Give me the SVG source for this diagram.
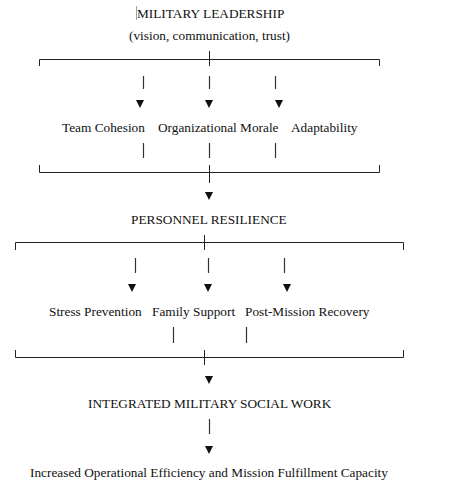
<svg xmlns="http://www.w3.org/2000/svg" xmlns:xlink="http://www.w3.org/1999/xlink" width="465" height="487" viewBox="0 0 465 487">
<style>
text{font-family:"Liberation Serif","Times New Roman",serif;font-size:13.3px;fill:#111}
.ln{stroke:#222;stroke-width:1;fill:none}
.bar{stroke:#333;stroke-width:1.2;fill:none}
</style>
<defs>
<polygon id="tri" points="-4,0 4,0 0,8" fill="#111"/>
</defs>
<rect width="465" height="487" fill="#fff"/>
<line x1="136.5" y1="6" x2="136.5" y2="20" stroke="#888" stroke-width="0.8"/>
<g id="leadership"><text x="137" y="18">MILITARY LEADERSHIP</text><text x="129" y="40">(vision, communication, trust)</text></g>
<g id="team-cohesion"><text x="62" y="132">Team Cohesion</text></g>
<g id="org-morale"><text x="158" y="132">Organizational Morale</text></g>
<g id="adaptability"><text x="291" y="132">Adaptability</text></g>
<g id="resilience"><text x="131" y="224">PERSONNEL RESILIENCE</text></g>
<g id="stress-prevention"><text x="49" y="316">Stress Prevention</text></g>
<g id="family-support"><text x="152" y="316">Family Support</text></g>
<g id="post-mission"><text x="245" y="316">Post-Mission Recovery</text></g>
<g id="social-work"><text x="88" y="408">INTEGRATED MILITARY SOCIAL WORK</text></g>
<g id="outcome"><text x="30" y="477">Increased Operational Efficiency and Mission Fulfillment Capacity</text></g>
<g id="connectors">
<path class="ln" d="M39.5,66 V59.5 H379.5 V66 M209.5,51 V66"/>
<path class="bar" d="M143.5,76 V89 M209.5,76 V89 M275.5,76 V89"/>
<use xlink:href="#tri" x="140" y="100"/>
<use xlink:href="#tri" x="209" y="100"/>
<use xlink:href="#tri" x="279" y="100"/>
<path class="bar" d="M143.5,143 V158 M209.5,143 V158 M275.5,143 V158"/>
<path class="ln" d="M39.5,165 V172.5 H379.5 V165 M209.5,165 V183"/>
<use xlink:href="#tri" x="209" y="192"/>
<path class="ln" d="M15.5,250 V242.5 H403.5 V250 M204.5,235 V250"/>
<path class="bar" d="M135.5,258 V273 M208.5,258 V273 M284.5,258 V273"/>
<use xlink:href="#tri" x="132" y="284"/>
<use xlink:href="#tri" x="208" y="284"/>
<use xlink:href="#tri" x="287" y="284"/>
<path class="bar" d="M173.5,327 V343 M246.5,327 V343"/>
<path class="ln" d="M15.5,350 V357.5 H403.5 V350 M204.5,350 V365"/>
<use xlink:href="#tri" x="209" y="376"/>
<path class="bar" d="M209.5,419 V434"/>
<use xlink:href="#tri" x="209" y="446"/>
</g>
</svg>
